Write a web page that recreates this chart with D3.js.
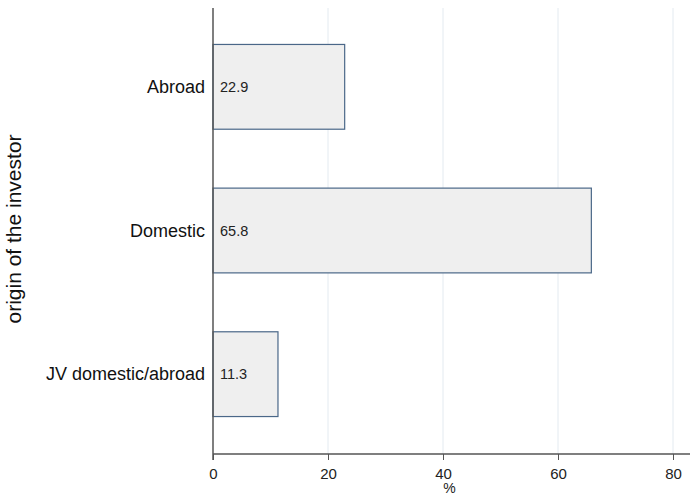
<!DOCTYPE html>
<html><head><meta charset="utf-8">
<script src="https://cdn.jsdelivr.net/npm/d3@7"></script>
<style>body{margin:0;background:#fff}svg{display:block;font-family:"Liberation Sans",Arial,sans-serif}</style>
</head><body><svg id="c" width="690" height="495"></svg>
<script>
const categories = ["Abroad", "Domestic", "JV domestic/abroad"];
const values = [22.9, 65.8, 11.3];
const xTicks = [0, 20, 40, 60, 80];

const svg = d3.select("#c");
const x = d3.scaleLinear().domain([0, 80]).range([213, 673]);
const y = d3.scaleBand().domain(categories).range([15, 446]).paddingInner(0.41).paddingOuter(0.205);
const axisY = 454, topY = 8;

// gridlines
svg.append("g").selectAll("line").data(xTicks.filter(d => d > 0)).join("line")
  .attr("x1", d => x(d)).attr("x2", d => x(d)).attr("y1", topY).attr("y2", axisY)
  .attr("stroke", "#e3eaf0").attr("stroke-width", 1);

// bars
svg.append("g").selectAll("rect").data(values).join("rect")
  .attr("x", x(0)).attr("y", (d, i) => y(categories[i]))
  .attr("width", d => x(d) - x(0)).attr("height", y.bandwidth())
  .attr("fill", "#efefef").attr("stroke", "#4a6788").attr("stroke-width", 1.2);

// value labels
svg.append("g").selectAll("text").data(values).join("text")
  .attr("x", x(0) + 7).attr("y", (d, i) => y(categories[i]) + y.bandwidth() / 2)
  .attr("dy", "0.35em").attr("font-size", 14.5).attr("fill", "#222")
  .text(d => d.toFixed(1));

// x axis
const xa = svg.append("g").attr("transform", `translate(0,${axisY})`)
  .call(d3.axisBottom(x).tickValues(xTicks).tickSize(6).tickPadding(8).tickFormat(d3.format("d")));
xa.select(".domain").remove();
xa.selectAll("line").attr("stroke", "#555");
xa.selectAll("text").attr("font-size", 15).attr("fill", "#222").attr("font-family", "Liberation Sans, Arial, sans-serif");
svg.append("line").attr("x1", x(0)).attr("x2", 690).attr("y1", axisY).attr("y2", axisY)
  .attr("stroke", "#555").attr("stroke-width", 1.5);

// y axis line
svg.append("line").attr("x1", x(0)).attr("x2", x(0)).attr("y1", topY).attr("y2", axisY + 6)
  .attr("stroke", "#555").attr("stroke-width", 1.5);

// category labels
svg.append("g").selectAll("text").data(categories).join("text")
  .attr("x", 205).attr("y", d => y(d) + y.bandwidth() / 2).attr("dy", "0.35em")
  .attr("text-anchor", "end").attr("font-size", 18).attr("fill", "#111").text(d => d);

// axis titles
svg.append("text").attr("x", (x(0) + 690) / 2 - 2).attr("y", 493).attr("text-anchor", "middle")
  .attr("font-size", 14).attr("fill", "#222").text("%");
svg.append("text").attr("transform", "translate(21,229) rotate(-90)").attr("text-anchor", "middle")
  .attr("font-size", 21).attr("fill", "#111").text("origin of the investor");
</script></body></html>
